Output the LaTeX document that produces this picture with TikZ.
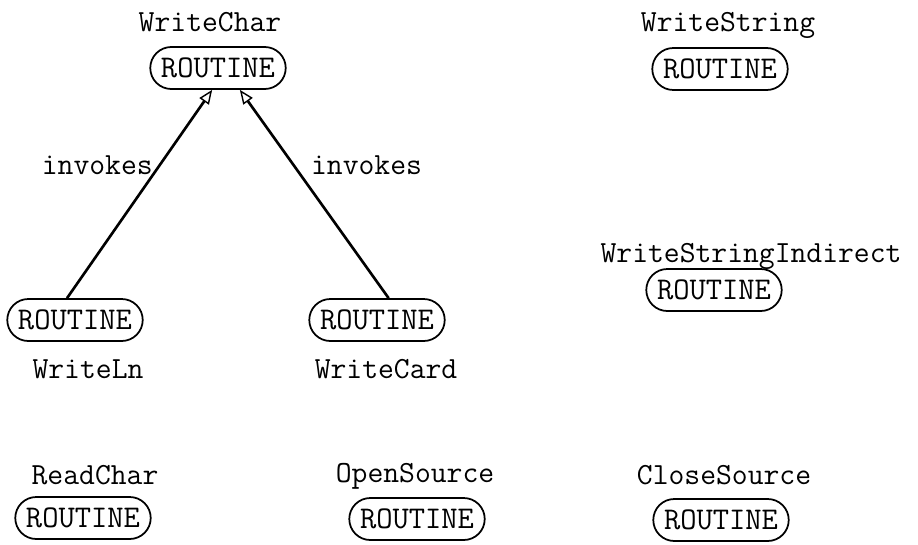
\documentclass[tikz,border=0pt]{standalone}
\usetikzlibrary{shapes.misc,arrows.meta}
\begin{document}
\begin{tikzpicture}[x=0.02cm, y=-0.02cm, font=\fontsize{17.5}{20}\selectfont\ttfamily,
	routine/.style={rounded rectangle, draw, line width=1pt, minimum width=2.85cm, minimum height=0.84cm, inner sep=2pt, font=\fontsize{18}{20}\selectfont\ttfamily},
	rname/.style={inner sep=0pt, anchor=base},
	invokes/.style={line width=1.5pt, -{Triangle[open, length=8pt, width=6.5pt, line width=0.8pt]}}]
		\useasboundingbox (0,0) rectangle (918,544);
		\node[routine] (wc) at (218,68) {ROUTINE};
		\node[rname] (wcname) at (210,32) {WriteChar};
		\node[routine] (ws) at (720,69) {ROUTINE};
		\node[rname] (wsname) at (728,32) {WriteString};
		\node[routine] (wsi) at (714,290) {ROUTINE};
		\node[rname] (wsiname) at (751,262) {WriteStringIndirect};
		\node[routine] (wl) at (75,320) {ROUTINE};
		\node[rname] (wlname) at (88,378) {WriteLn};
		\node[routine] (wcard) at (377,320) {ROUTINE};
		\node[rname] (wcardname) at (386,378) {WriteCard};
		\node[routine] (rc) at (83,518) {ROUTINE};
		\node[rname] (rcname) at (95,484) {ReadChar};
		\node[routine] (os) at (417,519) {ROUTINE};
		\node[rname] (osname) at (415,482) {OpenSource};
		\node[routine] (cs) at (721,520) {ROUTINE};
		\node[rname] (csname) at (724,484) {CloseSource};
		\draw[invokes] (wl.110) -- (wc.255) node[pos=0.64, left]{invokes};
		\draw[invokes] (wcard.62) -- (wc.-45) node[pos=0.64, right, xshift=6pt]{invokes};
\end{tikzpicture}
\end{document}
